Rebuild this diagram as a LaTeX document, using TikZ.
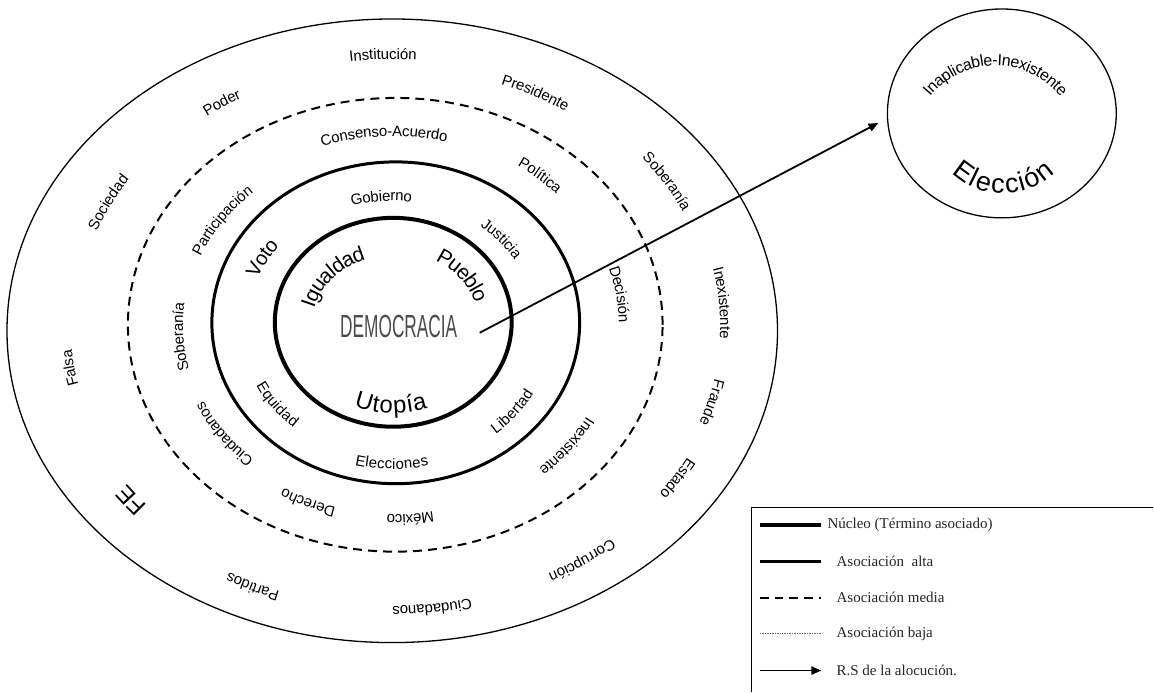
\documentclass[tikz,border=0pt]{standalone}
\usepackage{fontspec}
\setmainfont{Liberation Sans}
\newfontfamily\legendfont{Liberation Serif}
\newfontfamily\democfont[FakeStretch=0.54]{Liberation Sans}
\usepackage{tikz}
\usetikzlibrary{arrows.meta,decorations.text}

\newcommand{\ringword}[5]{%
  \pgfmathsetmacro{\rwDx}{#1-393}%
  \pgfmathsetmacro{\rwDy}{326-#2}%
  \pgfmathsetmacro{\rwA}{100*veclen(\rwDx/100,\rwK*(\rwDy)/100)}%
  \pgfmathsetmacro{\rwB}{\rwA/\rwK}%
  \pgfmathsetmacro{\rwT}{atan2(\rwK*(\rwDy),\rwDx)}%
  \pgfmathsetmacro{\rwP}{\rwT+(#4)*5160/\rwA}%
  \pgfmathsetmacro{\rwQ}{\rwT-(#4)*5160/\rwA}%
  \pgfmathsetmacro{\rwR}{-0.36*#3}%
  \path[decorate,decoration={text along path,text align=center,raise=\rwR pt,
      text={|\fontsize{#3}{#3}\selectfont|#5}}]
    plot[domain=\rwP:\rwQ,samples=40] ({393+\rwA*cos(\x)},{-326+\rwB*sin(\x)});%
}

\begin{document}
\begin{tikzpicture}[x=1pt,y=1pt,
  nucleo/.style={line width=4pt},
  alta/.style={line width=3pt},
  media/.style={line width=2pt,dash pattern=on 9pt off 6pt},
  baja/.style={line width=0.8pt,black!60,dash pattern=on 1.5pt off 1pt},
  rs/.style={line width=1.8pt,-{Triangle[length=10pt,width=8pt]}},
  legendtext/.style={anchor=west,inner sep=0pt,font=\legendfont\fontsize{15}{15}\selectfont,text=black!85}]
  \fill[white] (0,0) rectangle (1154,-692);

  % rings
  \draw[line width=1.3pt] (392.5,-331) ellipse [x radius=385.5pt,y radius=312pt];
  \draw[media] (395.5,-325) ellipse [x radius=267.5pt,y radius=227pt];
  \draw[alta] (396,-323) ellipse [x radius=184pt,y radius=161pt];
  \draw[nucleo] (393.5,-322.5) ellipse [x radius=118.5pt,y radius=104.5pt];
  \draw[line width=1.3pt] (1002.5,-113.5) ellipse [x radius=114.5pt,y radius=104.5pt];

  \node[text=black!70,font=\democfont\fontsize{32}{32}\selectfont] (demo) at (399,-327) {DEMOCRACIA};
  \coordinate (rsStart) at (480,-333);
  \coordinate (rsEnd) at (879,-123);
  \draw[rs] (rsStart) -- (rsEnd);

  % outer band
  \def\rwK{1.2}
  \foreach \wx/\wy/\wsz/\wdir/\wtxt in {383/54/15/1/Institución, 220/103/15/1/Poder,
      538/92/15/1/Presidente, 106/203/15/1/Sociedad, 670/182/15/1/Soberanía,
      725/303/15/1/Inexistente, 69/368/15/1/Falsa, 714/402/15/1/Fraude,
      680/478/15/1/Estado, 129/500/24/1/FE, 585/562/15/1/Corrupción,
      433/610/15/1/Ciudadanos, 251/588/15/1/Partidos}
    {\ringword{\wx}{\wy}{\wsz}{\wdir}{\wtxt}}

  % dashed band
  \def\rwK{1.16}
  \foreach \wx/\wy/\wsz/\wdir/\wtxt in {384/131/15/1/Consenso-Acuerdo, 543/176/15/1/Política,
      218/220/15/1/Participación, 622/295/15/1/Decisión, 178/337/15/1/Soberanía,
      220/435/15/1/Ciudadanos, 306/504/15/1/Derecho, 411/520/15/1/México,
      571/447/15/1/Inexistente}
    {\ringword{\wx}{\wy}{\wsz}{\wdir}{\wtxt}}

  % inner bands
  \def\rwK{1.14}
  \foreach \wx/\wy/\wsz/\wdir/\wtxt in {381/196/15/1/Gobierno, 505/240/15/1/Justicia,
      260/260/20/1/Voto, 275/403/15/-1/Equidad, 392/464/15/-1/Elecciones,
      515/410/15/-1/Libertad, 326/275/21/1/Igualdad, 468/276/21/1/Pueblo,
      391/405/24/-1/Utopía}
    {\ringword{\wx}{\wy}{\wsz}{\wdir}{\wtxt}}

  % right circle
  \path[decorate,decoration={text along path,text align=center,raise=-5.8pt,
      text={|\fontsize{16}{16}\selectfont|Inaplicable-Inexistente}}]
    (996,-150) ++(160:90pt) arc[start angle=160,end angle=20,radius=90pt];
  \path[decorate,decoration={text along path,text align=center,raise=-9.7pt,
      text={|\fontsize{27}{27}\selectfont|Elección}}]
    (1004,-118) ++(-155:66pt) arc[start angle=-155,end angle=-25,radius=66pt];

  % legend
  \draw[line width=1.5pt] (752,-692) -- (752,-508) -- (1154,-508);
  \foreach \ly/\lsty/\lx/\ltxt [count=\i] in {525/nucleo/828/Núcleo (Término asociado),
      562/alta/837/Asociación~ alta, 598/media/837/Asociación media,
      634/baja/837/Asociación baja, 671/rs/837/R.S de la alocución.}{
    \draw[\lsty] (760,-\ly) -- (822,-\ly);
    \node[legendtext] (lg\i) at (\lx,-\ly) {\ltxt};
  }
\end{tikzpicture}
\end{document}
